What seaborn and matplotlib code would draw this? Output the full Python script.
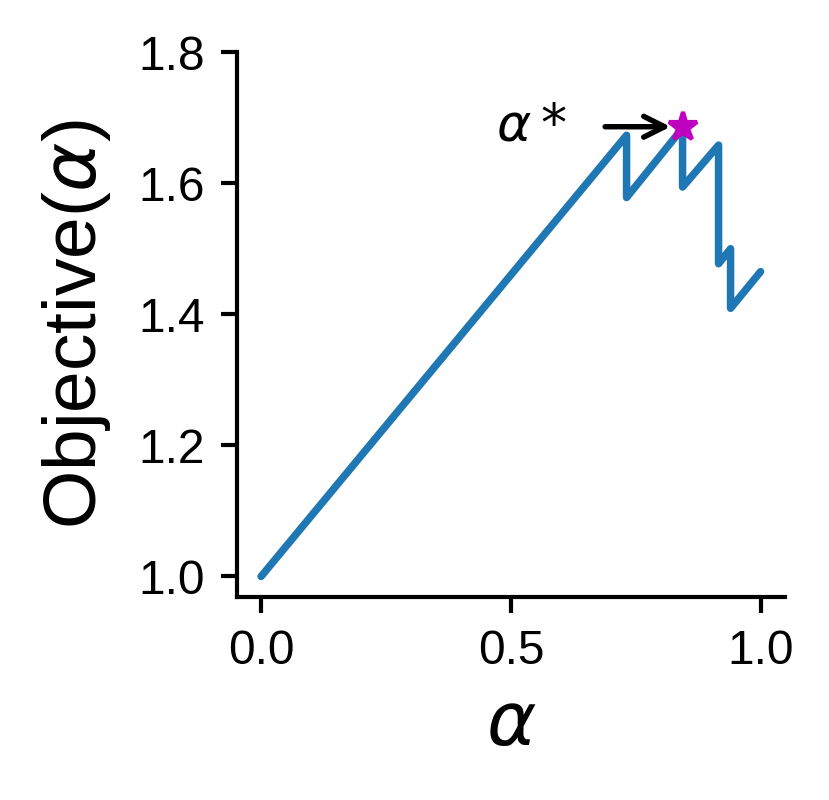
import numpy as np
import pandas as pd
import matplotlib
matplotlib.use("Agg")
import matplotlib.pyplot as plt
import seaborn as sns

# data
alpha = [0.0, 0.731, 0.731, 0.843, 0.843, 0.915, 0.915, 0.939, 0.939, 0.999]
objective = [1.000, 1.673, 1.578, 1.684, 1.594, 1.658, 1.477, 1.500, 1.409, 1.465]
alpha_star = [0.843]
objective_star = [1.686]
xticks = [0.0, 0.5, 1.0]
yticks = [1.0, 1.2, 1.4, 1.6, 1.8]

sns.set_style("ticks")
plt.rcParams['font.family'] = ['Liberation Sans', 'DejaVu Sans']
plt.rcParams['mathtext.fontset'] = 'dejavusans'
plt.rcParams['text.color'] = 'black'
plt.rcParams['axes.labelcolor'] = 'black'
plt.rcParams['xtick.color'] = 'black'
plt.rcParams['ytick.color'] = 'black'

fig = plt.figure(figsize=(829/300, 800/300), dpi=300)
ax = fig.add_axes([0.286, 0.254, 0.661, 0.681])

df = pd.DataFrame({"alpha": alpha, "objective": objective})
sns.lineplot(data=df, x="alpha", y="objective", ax=ax, sort=False,
             color="#1f77b4", linewidth=1.8, estimator=None)
ax.plot(alpha_star, objective_star, marker='*', color='m', markersize=7,
        linestyle='none', zorder=5)
ax.annotate(r'$\alpha*$', xy=(alpha_star[0] - 0.024, objective_star[0]),
            xytext=(0.47, objective_star[0]), fontsize=12.5, va='center',
            arrowprops=dict(arrowstyle='->', color='black', lw=1.3,
                            shrinkA=7, shrinkB=0))

ax.set_xlim(-0.048, 1.048)
ax.set_ylim(0.969, 1.8)
ax.set_xticks(xticks)
ax.set_yticks(yticks)
ax.set_xticklabels([f"{t:.1f}" for t in xticks])
ax.set_yticklabels([f"{t:.1f}" for t in yticks])
ax.tick_params(labelsize=11.5, width=1.0, length=3.8, color='black',
               labelcolor='black', pad=4)
ax.set_xlabel(r'$\alpha$', fontsize=18, labelpad=4)
ax.set_ylabel(r'Objective($\alpha$)', fontsize=18, labelpad=6)
for s in ax.spines.values():
    s.set_linewidth(1.0)
    s.set_color('black')
sns.despine(ax=ax)

fig.savefig("out.png", dpi=300)
